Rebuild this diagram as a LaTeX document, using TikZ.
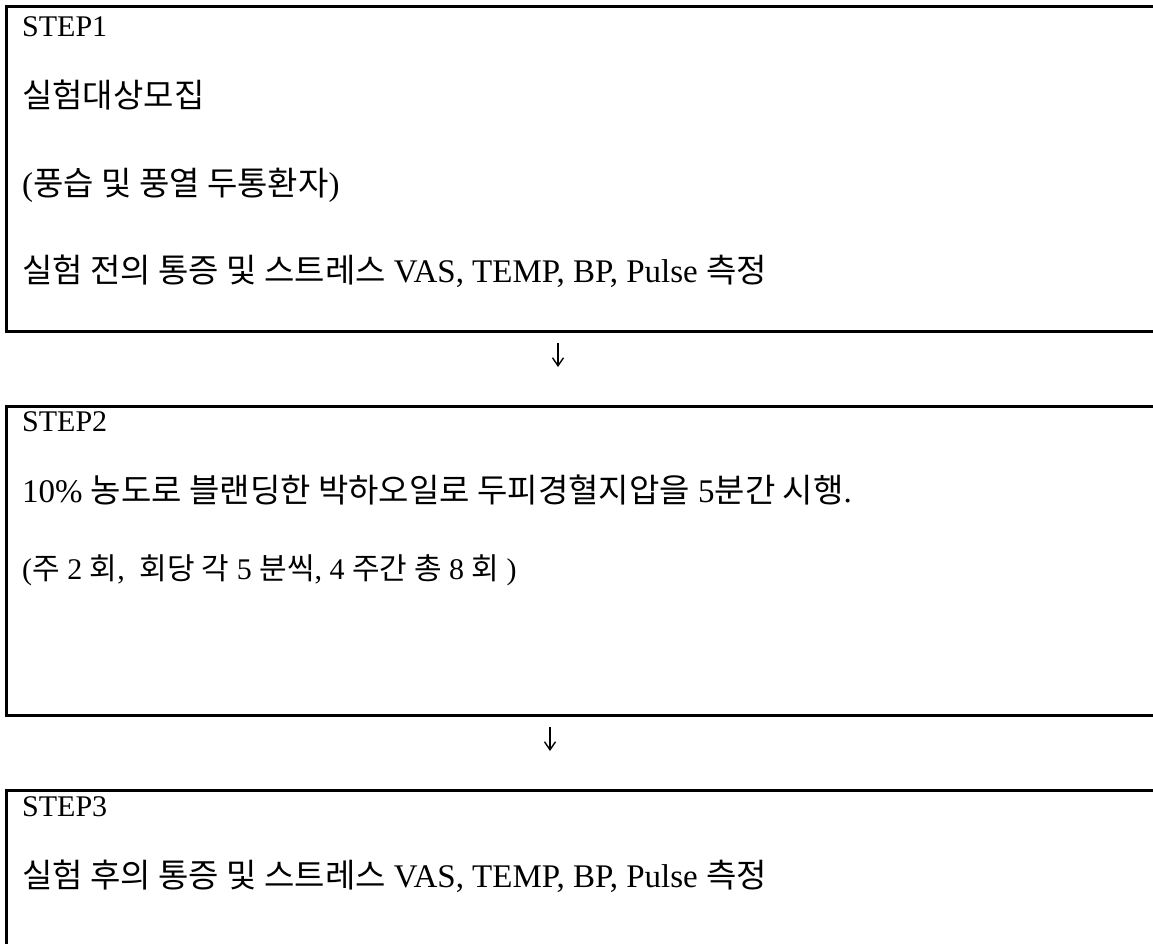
\documentclass[tikz,border=0pt]{standalone}
\usepackage{fontspec}
\setmainfont{Liberation Serif}
\newfontfamily\kr{Noto Sans CJK KR}
\usetikzlibrary{arrows.meta}
\begin{document}
\begin{tikzpicture}[x=1pt,y=-1pt,
  stepbox/.style={draw=black, line width=2.6pt, anchor=north west, inner sep=0pt, minimum width=1170pt},
  steplabel/.style={anchor=base west, inner sep=0pt, font=\fontsize{30}{36}\selectfont},
  txt/.style={anchor=base west, inner sep=0pt, font=\fontsize{33}{38}\selectfont},
  smalltxt/.style={anchor=base west, inner sep=0pt, font=\fontsize{30}{34}\selectfont},
  flow/.style={-{Straight Barb[length=8pt,width=11pt]}, line width=1.4pt}]
\useasboundingbox (0,0) rectangle (1153,943);
\clip (0,0) rectangle (1153,943);
\fill[white] (0,0) rectangle (1153,943);
% boxes
\node[stepbox, minimum height=325pt] (box1) at (5,5) {};
\node[stepbox, minimum height=309pt] (box2) at (5,405) {};
\node[stepbox, minimum height=200pt] (box3) at (5,789) {};
% texts box 1
\node[steplabel] (s1) at (22,36) {STEP1};
\node[txt] (t11) at (22,107) {\kr 실험대상모집};
\node[txt] (t12) at (22,195) {({\kr 풍습 및 풍열 두통환자})};
\node[txt] (t13) at (22,282) {{\kr 실험 전의 통증 및 스트레스} VAS, TEMP, BP, Pulse {\kr 측정}};
% texts box 2
\node[steplabel] (s2) at (22,431) {STEP2};
\node[txt] (t21) at (22,502) {10\% {\kr 농도로 블랜딩한 박하오일로 두피경혈지압을} 5{\kr 분간 시행}.};
\node[smalltxt] (t22) at (22,579) {({\kr 주} 2 {\kr 회},\ \ {\kr 회당 각} 5 {\kr 분씩}, 4 {\kr 주간 총} 8 {\kr 회} )};
% texts box 3
\node[steplabel] (s3) at (22,816) {STEP3};
\node[txt] (t31) at (22,887) {{\kr 실험 후의 통증 및 스트레스} VAS, TEMP, BP, Pulse {\kr 측정}};
% arrows
\coordinate (ax1) at (558,0);
\coordinate (ax2) at (550,0);
\draw[flow, shorten <=10pt, shorten >=38pt] (box1.south -| ax1) -- (box2.north -| ax1);
\draw[flow, shorten <=10pt, shorten >=38pt] (box2.south -| ax2) -- (box3.north -| ax2);
\end{tikzpicture}
\end{document}
